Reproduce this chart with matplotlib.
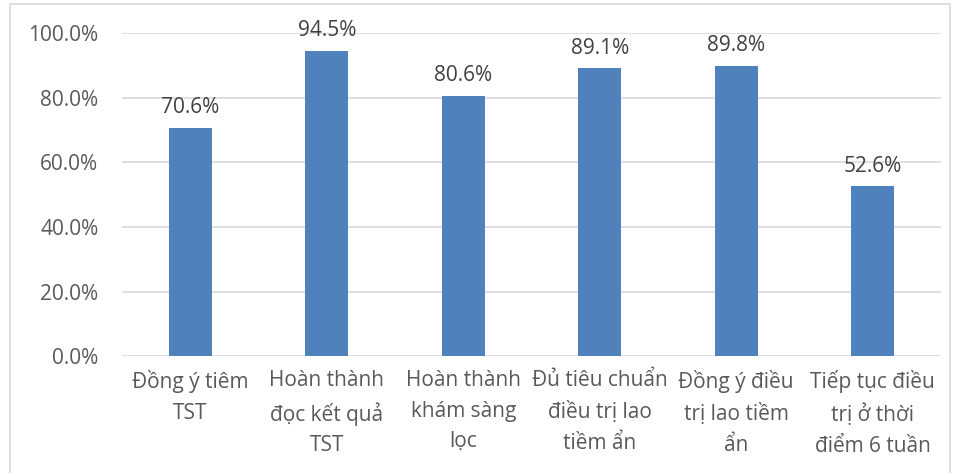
import matplotlib.pyplot as plt
from matplotlib.patches import Rectangle
from matplotlib.ticker import FuncFormatter

categories = ['Đồng ý tiêm\nTST', 'Hoàn thành\nđọc kết quả\nTST', 'Hoàn thành\nkhám sàng\nlọc',
              'Đủ tiêu chuẩn\nđiều trị lao\ntiềm ẩn', 'Đồng ý điều\ntrị lao tiềm\nẩn',
              'Tiếp tục điều\ntrị ở thời\nđiểm 6 tuần']
values = [70.6, 94.5, 80.6, 89.1, 89.8, 52.6]

plt.rcParams['font.family'] = ['Open Sans', 'DejaVu Sans']
text_color = '#595959'
bar_color = '#4f81bd'

fig = plt.figure(figsize=(9.61, 4.73), dpi=100)
ax = fig.add_axes([0.127, 0.247, 0.852, 0.683])

# light border round the whole chart
fig.patches.append(Rectangle((10 / 961, -0.01), 940 / 961, 1 - 4 / 473 + 0.01,
                             transform=fig.transFigure, fill=False,
                             edgecolor='#d9d9d9', linewidth=1.2))

x = range(len(categories))
ax.bar(x, values, width=0.315, color=bar_color, zorder=3)

for xi, v in zip(x, values):
    ax.annotate(f'{v:.1f}%', (xi, v), xytext=(0, 7), textcoords='offset points',
                ha='center', va='bottom', fontsize=15, color='#404040')

ax.set_xlim(-0.5, len(categories) - 0.5)
ax.set_ylim(0, 100)
ax.set_yticks(range(0, 101, 20))
ax.yaxis.set_major_formatter(FuncFormatter(lambda v, p: f'{v:.1f}%'))
ax.set_xticks(list(x))
ax.set_xticklabels(categories, linespacing=1.6, fontsize=14.5)
ax.grid(axis='y', color='#d9d9d9', linewidth=1.2, zorder=0)
ax.tick_params(length=0, labelsize=15, labelcolor=text_color)
ax.tick_params(axis='x', pad=10)
ax.tick_params(axis='y', pad=17)
for s in ax.spines.values():
    s.set_visible(False)

fig.savefig('out.png', dpi=100)
